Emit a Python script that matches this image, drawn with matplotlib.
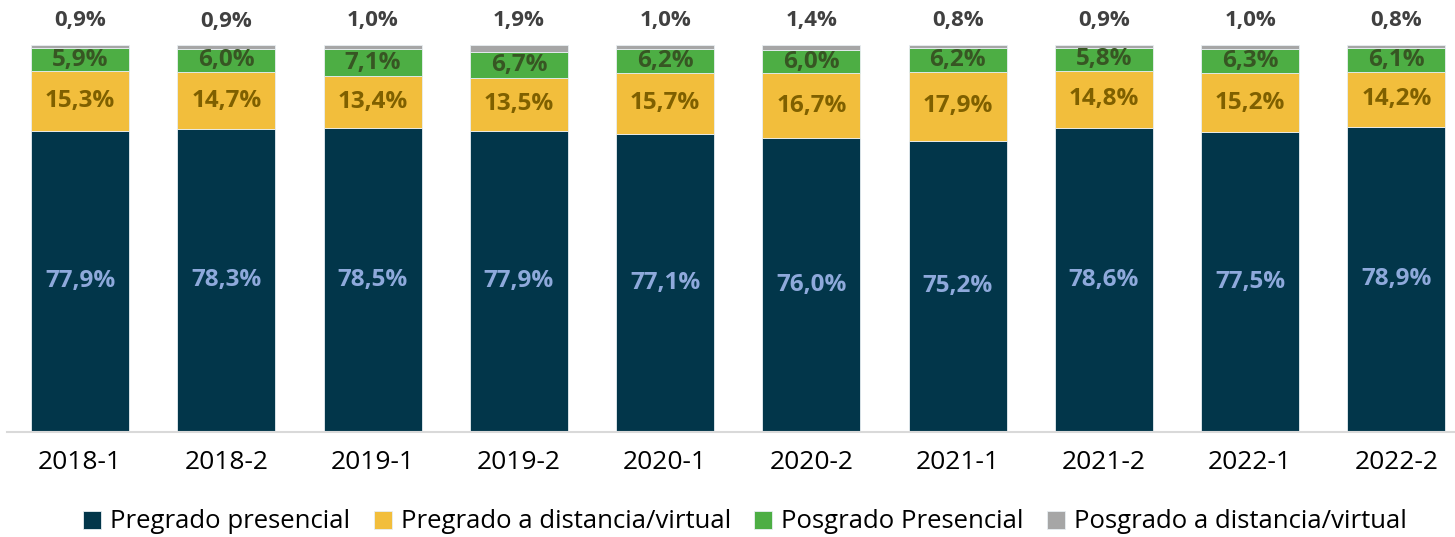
import matplotlib.pyplot as plt
import numpy as np

plt.rcParams["font.family"] = ["Open Sans", "DejaVu Sans"]

periodos = ["2018-1", "2018-2", "2019-1", "2019-2", "2020-1",
            "2020-2", "2021-1", "2021-2", "2022-1", "2022-2"]
pre_presencial = [77.9, 78.3, 78.5, 77.9, 77.1, 76.0, 75.2, 78.6, 77.5, 78.9]
pre_virtual = [15.3, 14.7, 13.4, 13.5, 15.7, 16.7, 17.9, 14.8, 15.2, 14.2]
pos_presencial = [5.9, 6.0, 7.1, 6.7, 6.2, 6.0, 6.2, 5.8, 6.3, 6.1]
pos_virtual = [0.9, 0.9, 1.0, 1.9, 1.0, 1.4, 0.8, 0.9, 1.0, 0.8]

series = [
    ("Pregrado presencial", pre_presencial, "#02364A", "#8EA9DB"),
    ("Pregrado a distancia/virtual", pre_virtual, "#F2BE3C", "#7F6000"),
    ("Posgrado Presencial", pos_presencial, "#4DAE44", "#375623"),
    ("Posgrado a distancia/virtual", pos_virtual, "#A6A6A6", "#404040"),
]

fig = plt.figure(figsize=(14.55, 5.37), dpi=100)
ax = fig.add_axes([7 / 1455, 105 / 537, 1448 / 1455, 387 / 537])

x = np.arange(len(periodos))
base = np.zeros(len(periodos))
fmt = lambda v: f"{v:.1f}%".replace(".", ",")

for i, (nombre, vals, color, txt) in enumerate(series):
    vals = np.array(vals)
    ax.bar(x, vals, 0.67, bottom=base, color=color, label=nombre,
           edgecolor="#e8eef2", linewidth=0.6)
    for xi, b, v in zip(x, base, vals):
        if i < 3:
            ax.text(xi, b + v / 2, fmt(v), ha="center", va="center",
                    fontsize=17.5, fontweight="bold", color=txt)
        else:
            ax.text(xi, b + v + 6.3, fmt(v), ha="center", va="center",
                    fontsize=16, fontweight="bold", color=txt)
    base += vals

ax.set_xlim(-0.5, 9.4)
ax.set_ylim(0, 100)
ax.set_yticks([])
ax.set_xticks(x)
ax.set_xticklabels(periodos, fontsize=19, color="#000000")
ax.tick_params(axis="x", length=0, pad=13)
for s in ["top", "right", "left"]:
    ax.spines[s].set_visible(False)
ax.spines["bottom"].set_color("#d9d9d9")
ax.spines["bottom"].set_linewidth(1.5)

fig.legend(loc="center", bbox_to_anchor=(745 / 1455, 1 - 522 / 537), ncol=4,
           frameon=False, fontsize=18.5, handlelength=0.7, handleheight=0.7,
           handletextpad=0.35, columnspacing=0.9)

fig.savefig("out.png", dpi=100)
